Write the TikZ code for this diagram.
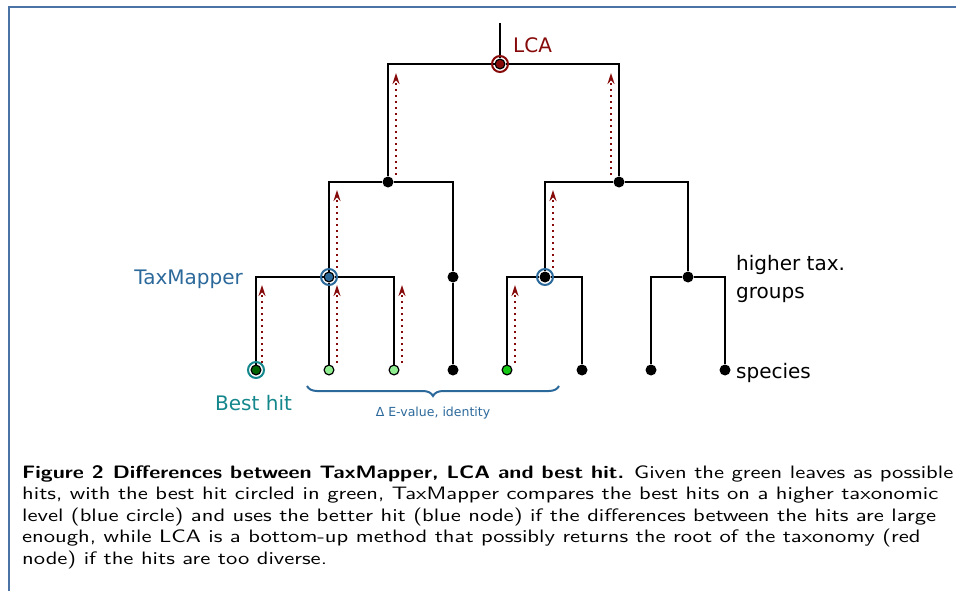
\documentclass[tikz,border=0pt]{standalone}
\usepackage{fontspec}
\usepackage{tikz}
\usetikzlibrary{
    arrows.meta,
    calc,
    decorations.pathreplacing
}
\newfontfamily\dejavu{DejaVu Sans}
\newfontfamily\capfont{lmsans10-regular.otf}[FakeStretch = 1.255]
\newfontfamily\capbold{lmsans10-bold.otf}[FakeStretch = 1.20]
\definecolor{lcared}{RGB}{135,10,10}
\definecolor{taxblue}{RGB}{44,105,155}
\definecolor{hitteal}{RGB}{20,135,140}
\definecolor{bestgreen}{RGB}{0,100,0}
\definecolor{palegreen}{RGB}{144,238,144}
\definecolor{hitgreen}{RGB}{20,200,20}
\definecolor{framecol}{RGB}{75,115,165}
\tikzset {
    branch/.style = {line width = 2.5pt},
    vertex/.style = {circle, fill, inner sep = 0pt, minimum size = 11pt},
    leaf/.style = {circle, draw, fill = #1, line width = 1.2pt, inner sep = 0pt, minimum size = 9.8pt},
    ring/.style = {circle, draw = #1, line width = 2pt, inner sep = 0pt, minimum size = 16pt},
    hit arrow/.style = {
        draw = lcared, line width = 1.8pt, dash pattern = on 1.8pt off 4.2pt,
        -{Stealth[length = 11pt, width = 7pt]}
    },
    tree text/.style = {font = \dejavu\fontsize{20}{27.5}\selectfont, inner sep = 0pt},
    %
    caption/.style = {
        font = \capfont\fontsize{18}{21.5}\selectfont,
        align = left, inner sep = 0pt
    }
}

\begin{document}
\begin{tikzpicture}[x = 1pt, y = -1pt]
    \useasboundingbox (0, 0) rectangle (956, 591);
    \draw [framecol, line width = 2pt] (956, 7) -- (9, 7) -- (9, 591);
    % inner nodes
    \node (root) [vertex, fill = lcared, draw = black, line width = 1.2pt, minimum size = 9.8pt] at (500, 64) {};
    \node (n1) [vertex] at (388, 182) {};
    \node (n2) [vertex] at (619, 182) {};
    \node (tm) [vertex, fill = taxblue, draw = black, line width = 1.2pt, minimum size = 9.8pt] at (329, 277) {};
    \node (m1) [vertex] at (453, 277) {};
    \node (rc) [vertex] at (545, 277) {};
    \node (m2) [vertex] at (688, 277) {};
    % leaves
    \node (bh) [leaf = bestgreen] at (256, 370) {};
    \node (l2) [leaf = palegreen] at (329, 370) {};
    \node (l3) [leaf = palegreen] at (394, 370) {};
    \node (l4) [vertex] at (453, 370) {};
    \node (gl) [leaf = hitgreen] at (507, 370) {};
    \node (l6) [vertex] at (582, 370) {};
    \node (l7) [vertex] at (651, 370) {};
    \node (l8) [vertex] at (725, 370) {};
    \coordinate (top) at (500, 23);
    % tree
    \draw [branch] (top) -- (root);
    \draw [branch] (root) -| (n1);
    \draw [branch] (root) -| (n2);
    \draw [branch] (n1) -| (tm);
    \draw [branch] (n1) -| (m1);
    \draw [branch] (n2) -| (rc);
    \draw [branch] (n2) -| (m2);
    \draw [branch] (tm) -| (bh);
    \draw [branch] (tm) -- (l2);
    \draw [branch] (tm) -| (l3);
    \draw [branch] (m1) -- (l4);
    \draw [branch] (rc) -| (gl);
    \draw [branch] (rc) -| (l6);
    \draw [branch] (m2) -| (l7);
    \draw [branch] (m2) -| (l8);
    % rings
    \node (lcaring) [ring = lcared] at (root) {};
    \node (tmring) [ring = taxblue] at (tm) {};
    \node (rcring) [ring = taxblue] at (rc) {};
    \node (bhring) [ring = hitteal] at (bh) {};
    % hits moving up
    \draw [hit arrow] ($(bh) + (6, -7)$) -- ($(bh |- tm) + (6, 8)$);
    \draw [hit arrow] ($(l2) + (8, -7)$) -- ($(l2 |- tm) + (8, 8)$);
    \draw [hit arrow] ($(l3) + (8, -7)$) -- ($(l3 |- tm) + (8, 8)$);
    \draw [hit arrow] ($(gl) + (8, -7)$) -- ($(gl |- rc) + (8, 8)$);
    \draw [hit arrow] ($(tm) + (8, -9)$) -- ($(tm |- n1) + (8, 8)$);
    \draw [hit arrow] ($(rc) + (8, -9)$) -- ($(rc |- n2) + (8, 8)$);
    \draw [hit arrow] ($(n1) + (8, -7)$) -- ($(n1 |- root) + (8, 9)$);
    \draw [hit arrow] ($(n2) + (-8, -7)$) -- ($(n2 |- root) + (-8, 9)$);
    % labels
    \node (lcalabel) [tree text, text = lcared, anchor = base west] at (513, 53) {LCA};
    \node (tmlabel) [tree text, text = taxblue, anchor = base east] at (243, 284) {TaxMapper};
    \node (bhlabel) [tree text, text = hitteal, anchor = base west] at (215, 410) {Best hit};
    \node (grouplabel) [tree text, align = left, anchor = base west] at (736, 298) {higher tax.\\groups};
    \node (specieslabel) [tree text, anchor = base west] at (736, 378) {species};
    % brace over the other hits
    \coordinate (bl) at (307, 386);
    \coordinate (br) at (559, 386);
    \draw [taxblue, line width = 2pt, decorate,
        decoration = {brace, mirror, amplitude = 10pt}] (bl) -- (br);
    \node (deltalabel) [font = \dejavu\fontsize{12.5}{15}\selectfont, text = taxblue,
        inner sep = 0pt, anchor = base] at (433, 416) {Δ E-value, identity};
    % caption
    \node (cap) [caption, anchor = north west] at (22, 465) {%
        {\capbold Figure 2\enspace Differences between TaxMapper, LCA and best hit.} Given the green leaves as possible\\
        hits, with the best hit circled in green, TaxMapper compares the best hits on a higher taxonomic\\
        level (blue circle) and uses the better hit (blue node) if the differences between the hits are large\\
        enough, while LCA is a bottom-up method that possibly returns the root of the taxonomy (red\\
        node) if the hits are too diverse.};
\end{tikzpicture}
\end{document}
